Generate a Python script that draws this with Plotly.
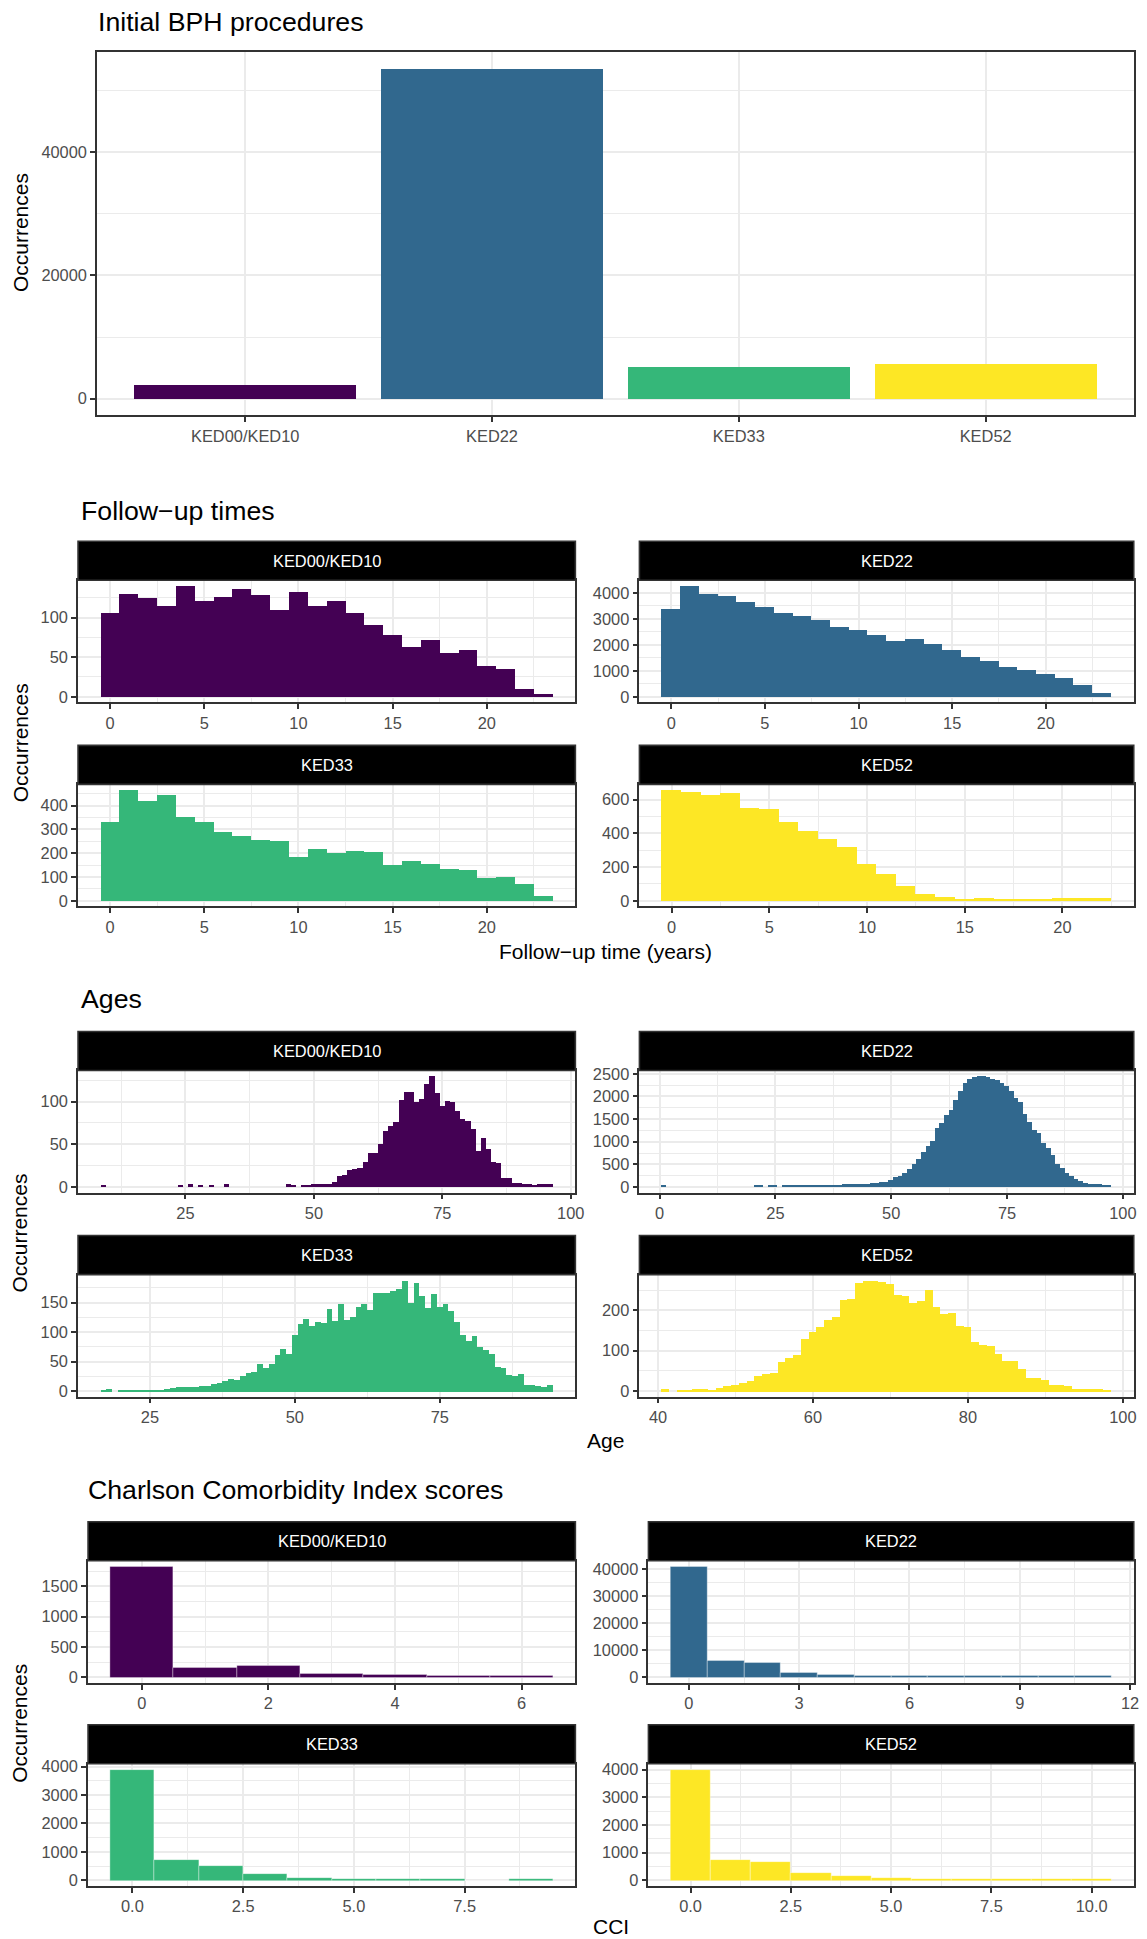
import plotly.graph_objects as go

W, H = 1147, 1939
# empirical correction between page pixels and photographed pixels
SX, SY, OY = 0.9915, 0.9949, 5.0

# ---------------- data ----------------
procedures = ["KED00/KED10", "KED22", "KED33", "KED52"]
procedure_counts = [2150, 53600, 5200, 5650]
viridis = ["#440154", "#31688E", "#35B779", "#FDE725"]

# Follow-up time (years): counts per 1-year bin centred on 0, 1, 2, ...
followup_ked00 = [105, 129, 124, 114, 140, 121, 126, 136, 128, 109, 132, 114, 120, 105, 90, 77, 62, 71, 55, 59, 38, 35, 10, 3]
followup_ked22 = [3384, 4277, 3937, 3862, 3648, 3459, 3233, 3107, 2931, 2679, 2553, 2365, 2151, 2201, 2025, 1774,
                  1509, 1384, 1132, 1019, 855, 704, 453, 138]
followup_ked33 = [331, 466, 417, 443, 352, 328, 286, 273, 254, 248, 182, 215, 200, 206, 203, 149, 167, 153, 134, 128,
                  95, 97, 69, 18]
followup_ked52 = [658, 645, 628, 640, 547, 543, 467, 414, 362, 319, 216, 158, 89, 36, 20, 10, 12, 8, 10, 10, 16, 14, 12]

# Age: first age (bin centre) and counts per 1-year bin
age_start_ked00 = 9
age_ked00 = [2, 0, 0, 0, 0, 0, 0, 0, 0, 0, 0, 0, 0, 0, 0, 2, 0, 3, 0, 2, 0, 2, 0, 0, 3,
             0, 0, 0, 0, 0, 0, 0, 0, 0, 0, 0, 3, 2, 0, 2, 2, 3, 3, 3, 3, 5, 12, 13, 19, 20,
             22, 29, 39, 39, 50, 65, 71, 75, 101, 111, 111, 99, 103, 120, 130, 110, 94, 100, 99, 88,
             79, 77, 67, 42, 57, 44, 29, 27, 10, 10, 4, 4, 3, 3, 2, 3, 3, 3]
age_start_ked22 = 1
age_ked22 = [40, 0, 0, 0, 0, 0, 0, 0, 0, 0, 0, 0, 0, 0, 0, 0, 0, 0, 0, 0, 30, 30, 0, 30, 30, 0,
             20, 25, 25, 25, 30, 30, 30, 30, 35, 35, 35, 40, 40, 45, 45, 50, 55, 55, 60, 70, 80, 95, 110,
             150, 200, 240, 300, 390, 490, 600, 760, 900, 1000, 1300, 1400, 1570, 1700, 1900, 2100, 2280,
             2380, 2410, 2440, 2450, 2410, 2380, 2360, 2290, 2220, 2100, 1960, 1860, 1600, 1430, 1250, 1180,
             960, 860, 700, 500, 400, 300, 230, 160, 120, 80, 60, 50, 45, 40, 30]
age_start_ked33 = 17
age_ked33 = [3, 4, 0, 2, 2, 3, 3, 3, 3, 3, 3, 4, 6, 7, 7, 8, 7, 10, 9, 12, 15, 17, 21, 19, 27, 32, 33, 47, 39, 46,
             62, 72, 64, 95, 115, 123, 111, 118, 116, 140, 120, 149, 121, 126, 143, 148, 138, 167, 167, 167,
             171, 174, 188, 150, 184, 161, 141, 165, 143, 148, 137, 118, 96, 85, 94, 75, 70, 63, 42, 40,
             28, 27, 29, 11, 11, 9, 8, 11]
age_start_ked52 = 41
age_ked52 = [5, 0, 4, 3, 6, 5, 4, 9, 13, 15, 20, 25, 38, 43, 46, 73, 82, 91, 130, 148, 159, 176, 184, 226, 230,
             269, 275, 274, 271, 266, 239, 237, 220, 225, 251, 209, 193, 195, 162, 160, 123, 116, 112, 93, 75,
             76, 57, 33, 33, 29, 16, 16, 14, 7, 5, 5, 5, 4]

# CCI: counts per score 0, 1, 2, ...
cci_ked00 = [1831, 152, 195, 65, 38, 27, 22]
cci_ked22 = [40970, 6060, 5330, 1820, 1000, 700, 700, 620, 620, 620, 600, 600]
cci_ked33 = [3905, 737, 518, 219, 104, 69, 69, 50, 0, 50]
cci_ked52 = [4012, 757, 675, 272, 154, 83, 71, 50, 50, 50, 50]

# tick labels
top_yticks = [0, 20000, 40000]
fu_xticks = [0, 5, 10, 15, 20]
fu_yticks = [[0, 50, 100], [0, 1000, 2000, 3000, 4000], [0, 100, 200, 300, 400], [0, 200, 400, 600]]
age_xticks = [[25, 50, 75, 100], [0, 25, 50, 75, 100], [25, 50, 75], [40, 60, 80, 100]]
age_yticks = [[0, 50, 100], [0, 500, 1000, 1500, 2000, 2500], [0, 50, 100, 150], [0, 100, 200]]
cci_xticks = [[0, 2, 4, 6], [0, 3, 6, 9, 12], [0, 2.5, 5, 7.5], [0, 2.5, 5, 7.5, 10]]
cci_yticks = [[0, 500, 1000, 1500], [0, 10000, 20000, 30000, 40000], [0, 1000, 2000, 3000, 4000],
              [0, 1000, 2000, 3000, 4000]]

# ---------------- style ----------------
FONT = "Liberation Sans, Arial, Helvetica, sans-serif"
GRID = "#EBEBEB"
BORDER = "#333333"
TICKC = "#4D4D4D"
TICK_SIZE = 16.4
STRIP_SIZE = 16.4
AXTITLE_SIZE = 21
TITLE_SIZE = 26.7

fig = go.Figure()
state = {"n": 0}


def fx(px):
    return (px / SX) / W


def fy(py):
    return 1 - ((py - OY) / SY) / H


def minor_of(ticks):
    if len(ticks) < 2:
        return []
    step = ticks[1] - ticks[0]
    return [ticks[0] - step / 2] + [t + step / 2 for t in ticks]


def fmt(ticks):
    if any(float(t) != int(t) for t in ticks):
        return [f"{t:.1f}" for t in ticks]
    return [str(int(t)) for t in ticks]


def panel(x0, x1, y0, y1, centers, counts, width, color, xrange, xticks, xtext, yticks,
          outline=False, xminor=True):
    state["n"] += 1
    n = state["n"]
    sx = "" if n == 1 else str(n)
    ymax = max(counts)
    yrange = [-0.05 * ymax, 1.05 * ymax]
    fig.add_trace(go.Bar(
        x=centers, y=counts, width=width,
        marker=dict(color=color, line=dict(color="white", width=0.35 if outline else 0)),
        xaxis="x" + sx, yaxis="y" + sx, showlegend=False, hoverinfo="x+y"))
    common = dict(showline=True, mirror=True, linecolor=BORDER, linewidth=1.6,
                  ticks="outside", ticklen=5, tickwidth=1.5, tickcolor=BORDER,
                  tickfont=dict(family=FONT, size=TICK_SIZE, color=TICKC),
                  showgrid=True, gridcolor=GRID, gridwidth=1.6, zeroline=False, fixedrange=True)
    xaxis = dict(domain=[fx(x0), fx(x1)], anchor="y" + sx, range=xrange,
                 tickmode="array", tickvals=xticks, ticktext=xtext, **common)
    if xminor:
        xaxis["minor"] = dict(tickmode="array", tickvals=minor_of(xticks), showgrid=True,
                              gridcolor=GRID, gridwidth=0.8, ticks="")
    yaxis = dict(domain=[fy(y1), fy(y0)], anchor="x" + sx, range=yrange,
                 tickmode="array", tickvals=yticks, ticktext=fmt(yticks),
                 minor=dict(tickmode="array", tickvals=minor_of(yticks), showgrid=True,
                            gridcolor=GRID, gridwidth=0.8, ticks=""),
                 **common)
    fig.update_layout(**{"xaxis" + sx: xaxis, "yaxis" + sx: yaxis})


def strip(x0, x1, y0, y1, label):
    fig.add_shape(type="rect", xref="paper", yref="paper", x0=fx(x0), x1=fx(x1),
                  y0=fy(y1), y1=fy(y0), fillcolor="black",
                  line=dict(color=BORDER, width=1.6), layer="above")
    fig.add_annotation(xref="paper", yref="paper", x=fx((x0 + x1) / 2), y=fy((y0 + y1) / 2),
                       text=label, showarrow=False, xanchor="center", yanchor="middle",
                       font=dict(family=FONT, size=STRIP_SIZE, color="white"))


def text(x, y, s, size, anchor="left", angle=0):
    fig.add_annotation(xref="paper", yref="paper", x=fx(x), y=fy(y), text=s, showarrow=False,
                       xanchor=anchor, yanchor="middle", textangle=angle,
                       font=dict(family=FONT, size=size, color="black"))


def hist_centers(start, counts):
    return [start + i for i in range(len(counts))]


def expand(lo, hi, f=0.05):
    d = hi - lo
    return [lo - f * d, hi + f * d]


# ---------------- section 1: bar chart ----------------
panel(97, 1133, 51, 414, list(range(len(procedures))), procedure_counts, 0.9, viridis,
      [-0.6, len(procedures) - 0.4], list(range(len(procedures))), procedures, top_yticks, xminor=False)
text(96, 21, "Initial BPH procedures", TITLE_SIZE)
text(20, 232, "Occurrences", AXTITLE_SIZE, anchor="center", angle=-90)

LEFT = (78, 575)
RIGHT = (639, 1133)


def facet_section(rows_top, left, right, datasets, xtick_sets, ytick_sets, outline=False):
    cols = [left, right]
    for i, (centers, counts, edges) in enumerate(datasets):
        r, c = divmod(i, 2)
        st = rows_top[r]
        x0, x1 = cols[c]
        strip(x0, x1, st, st + 39, procedures[i])
        panel(x0, x1, st + 39, st + 161, centers, counts, 1, viridis[i], expand(*edges),
              xtick_sets[i], fmt(xtick_sets[i]), ytick_sets[i], outline=outline)


# ---------------- section 2: follow-up ----------------
fu = [followup_ked00, followup_ked22, followup_ked33, followup_ked52]
fu_data = [(list(range(len(d))), d, (-0.5, len(d) - 0.5)) for d in fu]
facet_section([540, 744], LEFT, RIGHT, fu_data, [fu_xticks] * 4, fu_yticks)
text(79, 510, "Follow\u2212up times", TITLE_SIZE)
text(20, 742, "Occurrences", AXTITLE_SIZE, anchor="center", angle=-90)
text((LEFT[0] + RIGHT[1]) / 2, 950, "Follow\u2212up time (years)", AXTITLE_SIZE, anchor="center")

# ---------------- section 3: ages ----------------
ages = [(age_start_ked00, age_ked00), (age_start_ked22, age_ked22),
        (age_start_ked33, age_ked33), (age_start_ked52, age_ked52)]
age_data = [(hist_centers(s, d), d, (s - 0.5, s + len(d) - 0.5)) for s, d in ages]
facet_section([1030, 1234], LEFT, RIGHT, age_data, age_xticks, age_yticks)
text(79, 998, "Ages", TITLE_SIZE)
text(20, 1232, "Occurrences", AXTITLE_SIZE, anchor="center", angle=-90)
text((LEFT[0] + RIGHT[1]) / 2, 1439, "Age", AXTITLE_SIZE, anchor="center")

# ---------------- section 4: CCI ----------------
cci = [cci_ked00, cci_ked22, cci_ked33, cci_ked52]
cci_data = [(list(range(len(d))), d, (-0.5, len(d) - 0.5)) for d in cci]
facet_section([1520, 1723], (88, 575), (648, 1133), cci_data, cci_xticks, cci_yticks, outline=True)
text(86, 1488, "Charlson Comorbidity Index scores", TITLE_SIZE)
text(20, 1722, "Occurrences", AXTITLE_SIZE, anchor="center", angle=-90)
text((88 + 1133) / 2, 1925, "CCI", AXTITLE_SIZE, anchor="center")

fig.update_layout(width=W, height=H, autosize=False, margin=dict(l=0, r=0, t=0, b=0),
                  paper_bgcolor="white", plot_bgcolor="white", bargap=0,
                  font=dict(family=FONT, size=16, color="black"), showlegend=False)

fig.write_html("out.html", config={"displayModeBar": False},
               post_script="document.body.style.margin='0px';document.body.style.padding='0px';")
